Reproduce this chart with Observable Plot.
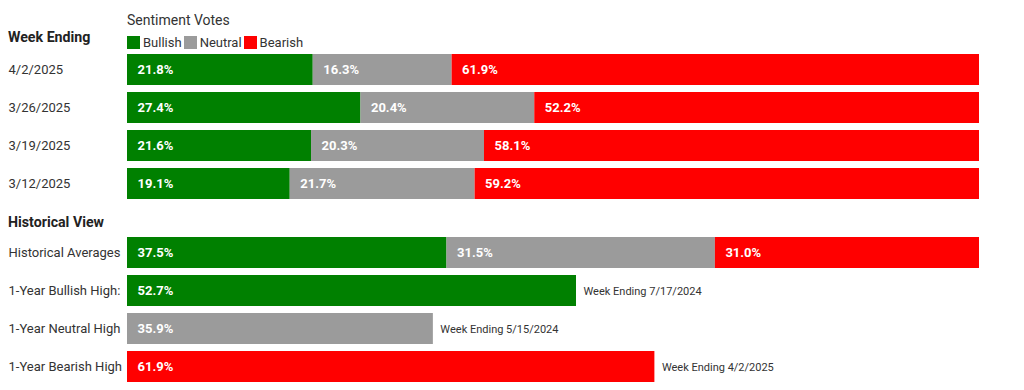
<!DOCTYPE html>
<html>
<head>
<meta charset="utf-8">
<script src="https://cdn.jsdelivr.net/npm/d3@7"></script>
<script src="https://cdn.jsdelivr.net/npm/@observablehq/plot@0.6"></script>
<style>
  body { margin: 0; background: #fff; font-family: Roboto, "Noto Sans", sans-serif; color: #333; }
  #root { position: relative; width: 1024px; height: 390px; overflow: hidden; }
  .abs { position: absolute; white-space: nowrap; }
  .hdr { font-weight: 700; font-size: 14.2px; color: #222; line-height: 18px; }
  .sub { font-size: 14px; color: #333; line-height: 18px; }
  .lg-swatch { margin-right: 2px !important; font-size: 13px; color: #333; }
  .lg-swatch svg { margin-right: 3px !important; }
  #legend > div { min-height: 0 !important; margin: 0 !important; }
</style>
</head>
<body>
<div id="root"></div>
<script>
// ---- data ----
const series = ["Bullish", "Neutral", "Bearish"];
const seriesColors = ["#008000", "#9b9b9b", "#ff0000"];
const weeks = ["4/2/2025", "3/26/2025", "3/19/2025", "3/12/2025"];
const bullish = [21.8, 27.4, 21.6, 19.1];
const neutral = [16.3, 20.4, 20.3, 21.7];
const bearish = [61.9, 52.2, 58.1, 59.2];
const histRows = ["Historical Averages", "1-Year Bullish High:", "1-Year Neutral High", "1-Year Bearish High"];
const histAverages = [37.5, 31.5, 31.0];
const highSeries = ["Bullish", "Neutral", "Bearish"];
const highValues = [52.7, 35.9, 61.9];
const highDates = ["Week Ending 7/17/2024", "Week Ending 5/15/2024", "Week Ending 4/2/2025"];

// ---- tables ----
const weekData = [];
weeks.forEach((w, i) => {
  [bullish[i], neutral[i], bearish[i]].forEach((v, j) => weekData.push({row: w, series: series[j], value: v}));
});
const histData = [];
histAverages.forEach((v, j) => histData.push({row: histRows[0], series: series[j], value: v, note: null}));
highValues.forEach((v, i) => histData.push({row: histRows[i + 1], series: highSeries[i], value: v, note: highDates[i]}));

const color = {domain: series, range: seriesColors};
const fmt = v => v.toFixed(1) + "%";

function chart(data, rows) {
  return Plot.plot({
    width: 1024,
    height: 152,
    marginLeft: 127,
    marginRight: 45,
    marginTop: 0,
    marginBottom: 0,
    style: {fontFamily: "Roboto, sans-serif", background: "transparent"},
    x: {domain: [0, 100], axis: null},
    y: {domain: rows, axis: null, paddingInner: 0.18, paddingOuter: 0.09},
    color,
    marks: [
      Plot.barX(data, Plot.stackX({x: "value", y: "row", fill: "series", z: "series"})),
      Plot.text(data, Plot.stackX1({
        x: "value", y: "row", z: "series", text: d => fmt(d.value),
        textAnchor: "start", dx: 10, fill: "white", fontWeight: "bold", fontSize: 13
      })),
      Plot.text(rows, {
        y: d => d, text: d => d, frameAnchor: "left", dx: -119,
        textAnchor: "start", fill: "#333", fontSize: 13
      }),
      Plot.text(data.filter(d => d.note), {
        x: "value", y: "row", text: "note", dx: 7, textAnchor: "start",
        fill: "#333", fontSize: 11
      })
    ]
  });
}

const root = document.getElementById("root");
function addText(txt, cls, left, top) {
  const d = document.createElement("div");
  d.className = "abs " + cls;
  d.style.left = left + "px";
  d.style.top = top + "px";
  d.textContent = txt;
  root.appendChild(d);
  return d;
}
addText("Sentiment Votes", "sub", 127, 11);
addText("Week Ending", "hdr", 8, 28);
addText("Historical View", "hdr", 8, 213);

const legendWrap = document.createElement("div");
legendWrap.id = "legend";
legendWrap.className = "abs";
legendWrap.style.left = "127px";
legendWrap.style.top = "35px";
legendWrap.appendChild(Plot.legend({color, legend: "swatches", swatchSize: 13, className: "lg",
  style: {fontFamily: "Roboto, sans-serif", fontSize: "13px"}}));
root.appendChild(legendWrap);

const c1 = chart(weekData, weeks);
c1.style.position = "absolute"; c1.style.left = "0px"; c1.style.top = "51px";
root.appendChild(c1);
const c2 = chart(histData, histRows);
c2.style.position = "absolute"; c2.style.left = "0px"; c2.style.top = "234px";
root.appendChild(c2);
</script>
</body>
</html>
